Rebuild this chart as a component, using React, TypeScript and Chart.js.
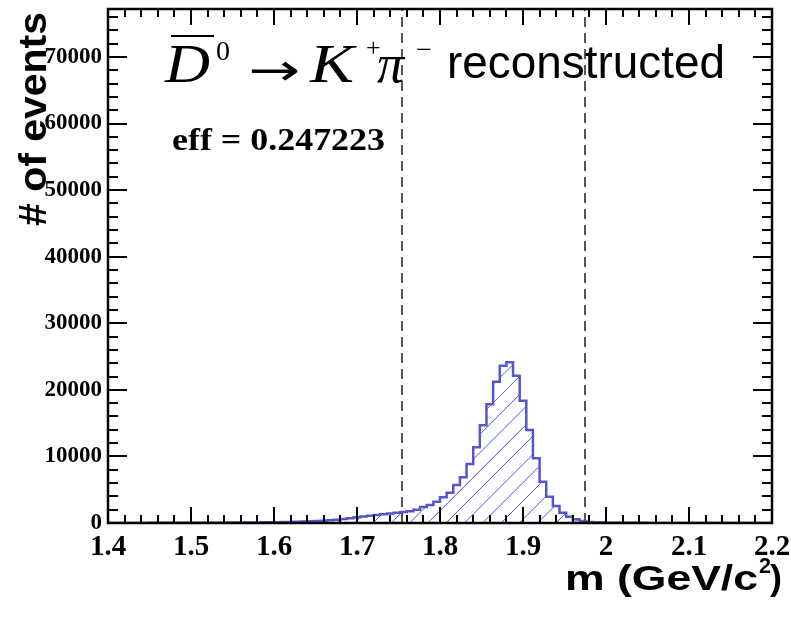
import { useEffect, useRef } from 'react';
import { Chart, registerables } from 'chart.js';

Chart.register(...registerables);

// Histogram binning of the reconstructed invariant mass
const histMin = 1.4;
const histMax = 2.2;
const binWidth = 0.008;

// Entries per bin (100 bins, 1.4 - 2.2 GeV/c^2)
const binCounts = [
  10, 12, 13, 15, 17, 18, 20, 22, 24, 26,
  28, 31, 34, 37, 40, 44, 48, 53, 58, 64,
  70, 77, 85, 94, 105, 120, 140, 165, 190, 220,
  260, 300, 350, 420, 500, 600, 720, 850, 960, 1080,
  1190, 1300, 1420, 1530, 1650, 1780, 2000, 2420, 2700, 3200,
  3860, 4550, 5700, 6860, 8860, 11370, 14700, 17830, 21220, 23630,
  24130, 22130, 18370, 13970, 9710, 6210, 3960, 2550, 1550, 950,
  550, 300, 160, 100, 70, 50, 40, 32, 26, 22,
  19, 17, 15, 14, 13, 12, 11, 10, 9, 9,
  8, 8, 7, 7, 6, 6, 5, 5, 5, 4,
];

const yMax = 77200;
const xTickLabels = [1.4, 1.5, 1.6, 1.7, 1.8, 1.9, 2.0, 2.1, 2.2];
const yTickLabels = [0, 10000, 20000, 30000, 40000, 50000, 60000, 70000];
const xMinorStep = 0.02;
const yMinorStep = 2000;

// Signal mass window
const massWindow = [1.7545, 1.9745];

const effLabel = 'eff = 0.247223';
const yTitle = '# of events';
const xTitleMain = 'm (GeV/c';
const xTitleSup = '2';
const xTitleEnd = ')';

const histColor = 'rgb(86, 86, 204)';
const hatchColor = 'rgb(80, 80, 235)';
const hatchSpacing = 18.3;

function drawText(
  ctx: CanvasRenderingContext2D,
  text: string,
  font: string,
  x: number,
  y: number,
  width?: number,
  rotate = false,
) {
  ctx.save();
  ctx.font = font;
  const w = ctx.measureText(text).width;
  ctx.translate(x, y);
  if (rotate) ctx.rotate(-Math.PI / 2);
  if (width) ctx.scale(width / w, 1);
  ctx.textAlign = 'left';
  ctx.textBaseline = 'alphabetic';
  ctx.fillText(text, 0, 0);
  ctx.restore();
}

// Diagonal hatching under the histogram outline
const hatchPlugin = {
  id: 'histHatch',
  beforeDatasetsDraw(chart: any) {
    const ctx: CanvasRenderingContext2D = chart.ctx;
    const { left, right, top, bottom } = chart.chartArea;
    const pts = chart.getDatasetMeta(0).data;
    if (!pts || !pts.length) return;
    ctx.save();
    ctx.beginPath();
    ctx.moveTo(pts[0].x, bottom);
    ctx.lineTo(pts[0].x, pts[0].y);
    for (let i = 1; i < pts.length; i++) {
      ctx.lineTo(pts[i].x, pts[i - 1].y);
      ctx.lineTo(pts[i].x, pts[i].y);
    }
    ctx.lineTo(pts[pts.length - 1].x, bottom);
    ctx.closePath();
    ctx.clip();
    ctx.strokeStyle = hatchColor;
    ctx.lineWidth = 1;
    const h = bottom - top;
    ctx.beginPath();
    for (let c = left - h - 8; c < right; c += hatchSpacing) {
      ctx.moveTo(c, bottom);
      ctx.lineTo(c + h, top);
    }
    ctx.stroke();
    ctx.restore();
  },
};

const framePlugin = {
  id: 'rootFrame',
  afterDatasetsDraw(chart: any) {
    const ctx: CanvasRenderingContext2D = chart.ctx;
    const { left, right, top, bottom } = chart.chartArea;
    const xs = chart.scales.x;
    const ys = chart.scales.y;

    // mass window
    ctx.save();
    ctx.strokeStyle = '#555555';
    ctx.lineWidth = 2;
    ctx.setLineDash([10, 6]);
    for (const m of massWindow) {
      const px = Math.round(xs.getPixelForValue(m));
      ctx.beginPath();
      ctx.moveTo(px, bottom);
      ctx.lineTo(px, top);
      ctx.stroke();
    }
    ctx.restore();

    // inward ticks on all four sides
    ctx.save();
    ctx.strokeStyle = '#000';
    ctx.lineWidth = 2;
    const nx = Math.round((histMax - histMin) / xMinorStep);
    for (let k = 0; k <= nx; k++) {
      const px = Math.round(xs.getPixelForValue(histMin + k * xMinorStep));
      const len = k % 5 === 0 ? 16 : 8;
      ctx.beginPath();
      ctx.moveTo(px, bottom);
      ctx.lineTo(px, bottom - len);
      ctx.moveTo(px, top);
      ctx.lineTo(px, top + len);
      ctx.stroke();
    }
    for (let k = 0; k * yMinorStep <= yMax; k++) {
      const py = Math.round(ys.getPixelForValue(k * yMinorStep));
      const len = k % 5 === 0 ? 19 : 10;
      ctx.beginPath();
      ctx.moveTo(left, py);
      ctx.lineTo(left + len, py);
      ctx.moveTo(right, py);
      ctx.lineTo(right - len, py);
      ctx.stroke();
    }
    ctx.lineWidth = 2.5;
    ctx.strokeRect(left, top, right - left, bottom - top);
    ctx.restore();

    // decay label
    ctx.save();
    ctx.fillStyle = '#000';
    ctx.strokeStyle = '#000';
    drawText(ctx, 'D', 'italic 55px "Liberation Serif"', 165, 82, 45);
    ctx.lineWidth = 2;
    ctx.beginPath();
    ctx.moveTo(171, 36);
    ctx.lineTo(214, 36);
    ctx.stroke();
    drawText(ctx, '0', '28px "Liberation Serif"', 216, 60);
    drawText(ctx, '\u2192', '44px "DejaVu Sans"', 248, 85, 52);
    drawText(ctx, 'K', 'italic 55px "Liberation Serif"', 310, 82, 44);
    drawText(ctx, '+', '26px "Liberation Serif"', 366, 56);
    drawText(ctx, '\u03c0', 'italic 54px "Liberation Serif"', 377, 82);
    drawText(ctx, '\u2212', '26px "Liberation Serif"', 416, 58, 16);
    drawText(ctx, 'reconstructed', '46px "Liberation Sans"', 447, 78, 278);

    // efficiency
    drawText(ctx, effLabel, 'bold 31px "Liberation Serif"', 172, 150, 213);

    // axis titles
    drawText(ctx, yTitle, 'bold 38px "Liberation Sans"', 46, 226, 214, true);
    drawText(ctx, xTitleMain, 'bold 35px "Liberation Sans"', 565, 590, 193);
    drawText(ctx, xTitleSup, 'bold 22px "Liberation Sans"', 759, 573, 12);
    drawText(ctx, xTitleEnd, 'bold 35px "Liberation Sans"', 770, 590, 12);
    ctx.restore();
  },
};

export default function App() {
  const canvasRef = useRef<HTMLCanvasElement | null>(null);

  useEffect(() => {
    document.body.style.margin = '0';
    const canvas = canvasRef.current;
    if (!canvas) return;

    const points = binCounts.map((c, i) => ({ x: histMin + i * binWidth, y: c }));
    points.push({ x: histMax, y: binCounts[binCounts.length - 1] });

    const chart = new Chart(canvas, {
      type: 'line',
      data: {
        datasets: [
          {
            data: points,
            stepped: true,
            borderColor: histColor,
            borderWidth: 2.5,
            pointRadius: 0,
            fill: false,
            backgroundColor: 'transparent',
          },
        ],
      },
      options: {
        animation: false,
        responsive: false,
        events: [],
        layout: { padding: { top: 9, right: 19, left: 0, bottom: 0 } },
        plugins: {
          legend: { display: false },
          tooltip: { enabled: false },
        },
        scales: {
          x: {
            type: 'linear',
            min: histMin,
            max: histMax,
            grid: { display: false, drawTicks: false },
            border: { display: false },
            afterBuildTicks: (s: any) => {
              s.ticks = xTickLabels.map((v) => ({ value: v }));
            },
            afterFit: (s: any) => {
              s.height = 97;
              s.paddingLeft = 0;
              s.paddingRight = 0;
            },
            ticks: {
              autoSkip: false,
              maxRotation: 0,
              color: '#000',
              padding: 7,
              font: { family: '"Liberation Serif"', size: 29, weight: 'bold' },
              callback: (v: any) => String(Math.round(Number(v) * 10) / 10),
            },
          },
          y: {
            type: 'linear',
            min: 0,
            max: yMax,
            grid: { display: false, drawTicks: false },
            border: { display: false },
            afterBuildTicks: (s: any) => {
              s.ticks = yTickLabels.map((v) => ({ value: v }));
            },
            afterFit: (s: any) => {
              s.width = 108;
              s.paddingTop = 0;
              s.paddingBottom = 0;
            },
            ticks: {
              autoSkip: false,
              color: '#000',
              padding: 6,
              font: { family: '"Liberation Serif"', size: 23, weight: 'bold' },
              callback: (v: any) => String(v),
            },
          },
        },
      },
      plugins: [hatchPlugin, framePlugin],
    });

    return () => chart.destroy();
  }, []);

  return (
    <div style={{ width: 791, height: 620 }}>
      <canvas ref={canvasRef} width={791} height={620} style={{ display: 'block' }} />
    </div>
  );
}
